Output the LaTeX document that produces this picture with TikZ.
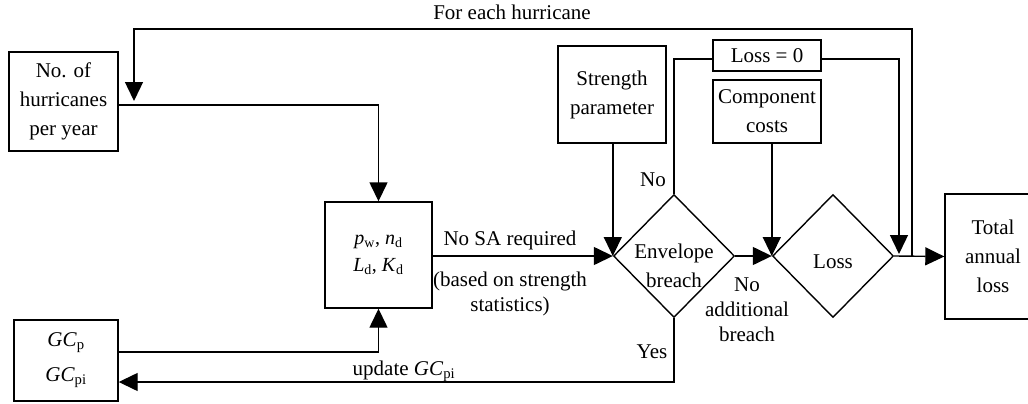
\documentclass[tikz,border=0pt]{standalone}
\usepackage{fontspec}
\setmainfont{Liberation Serif}
\usetikzlibrary{shapes.geometric,arrows.meta}
\begin{document}
\begin{tikzpicture}[x=1pt,y=-1pt, font=\fontsize{21}{29}\selectfont,
  box/.style={draw, line width=1.4pt, inner sep=0pt, align=center},
  dia/.style={draw, diamond, line width=1.4pt, inner sep=0pt, minimum width=121pt, minimum height=123pt},
  line/.style={line width=1.4pt},
  arr/.style={line width=1.4pt, -{Triangle[length=19pt,width=18pt]}},
  lbl/.style={inner sep=0pt, align=center}]
\useasboundingbox (0,0) rectangle (1028,404);
% boxes
\node[box, minimum width=109pt, minimum height=99pt] (hur) at (63.5,101.5) {No. of\\hurricanes\\per year};
\node[box, minimum width=107pt, minimum height=106pt, font=\fontsize{20}{27}\selectfont] (pw) at (378.5,255) {\textit{p}\textsubscript{w}, \textit{n}\textsubscript{d}\\\textit{L}\textsubscript{d}, \textit{K}\textsubscript{d}};
\node[box, minimum width=104pt, minimum height=81pt] (gc) at (66,360.5) {\textit{GC}\textsubscript{p}\\[6pt]\textit{GC}\textsubscript{pi}};
\node[box, minimum width=108pt, minimum height=97pt] (str) at (612,94.5) {Strength\\parameter};
\node[box, minimum width=108pt, minimum height=31pt] (loss0) at (767,55.5) {Loss = 0};
\node[box, minimum width=108pt, minimum height=63pt] (comp) at (767,111.5) {Component\\costs};
\node[dia] (env) at (674,256) {};
\node[lbl] (envt) at (674,266) {Envelope\\breach};
\node[dia] (loss) at (833,256) {};
\node[lbl] (losst) at (833,262) {Loss};
\node[box, minimum width=96pt, minimum height=125pt] (tot) at (993,256.5) {Total\\annual\\loss};
% coordinates
\coordinate (j1) at (912,256);
\coordinate (top) at (0,29);
\coordinate (hurin) at (134,101);
\coordinate (l0end) at (899,254);
% connectors
\draw[arr] (loss.east) -- (tot.west);
\draw[arr] (j1) -- (j1 |- top) -| (hurin);
\draw[arr] ([yshift=-3.5pt]hur.east) -| (pw.north);
\draw[arr] ([yshift=8.5pt]gc.east) -| (pw.south);
\draw[arr] (pw.east |- env.west) -- (env.west);
\draw[arr] (env.west |- str.south) -- (env.west);
\draw[line] (env.north) |- ([yshift=-3.5pt]loss0.west);
\draw[arr] ([yshift=-3.5pt]loss0.east) -| (l0end);
\draw[arr] (loss.west |- comp.south) -- (loss.west);
\draw[arr] (env.east) -- (loss.west);
\draw[arr] (env.south) |- ([yshift=-21.5pt]gc.east);
% labels
\node[lbl] (feh) at (512,12) {For each hurricane};
\node[lbl] (nosa) at (510,240) {No SA required};
\node[lbl, font=\fontsize{21}{25}\selectfont] (based) at (510,294) {(based on strength\\statistics)};
\node[lbl] (no1) at (653,180) {No};
\node[lbl, font=\fontsize{21}{25}\selectfont] (nab) at (747,310) {No\\additional\\breach};
\node[lbl] (yes) at (652,352) {Yes};
\node[lbl] (upd) at (404,371) {update \textit{GC}\textsubscript{pi}};
\end{tikzpicture}
\end{document}
